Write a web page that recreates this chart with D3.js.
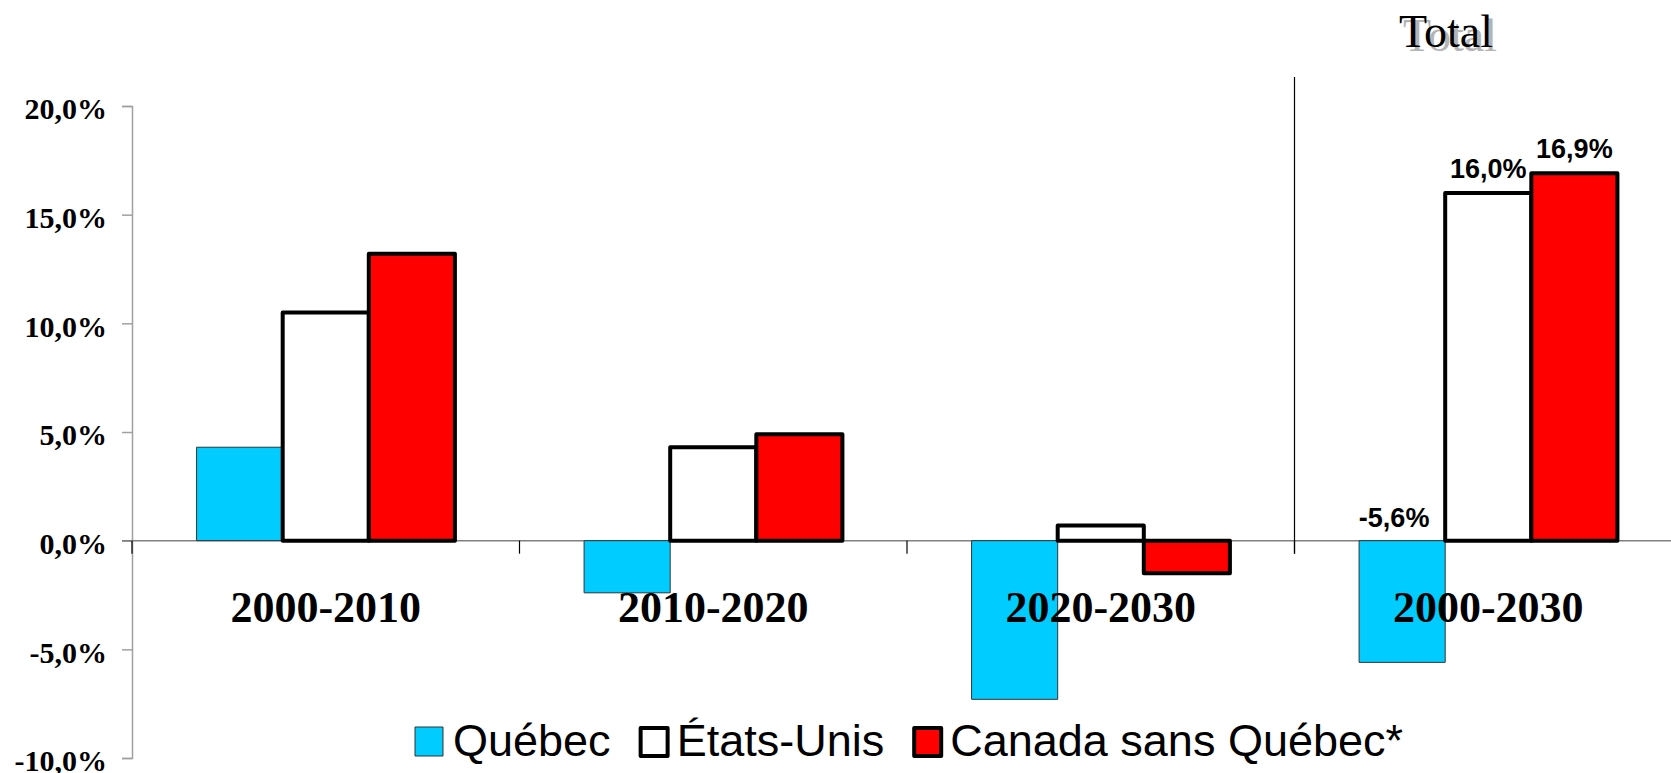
<!DOCTYPE html>
<html>
<head>
<meta charset="utf-8">
<script src="https://cdn.jsdelivr.net/npm/d3@7"></script>
<style>
  body { margin: 0; background: #fff; }
  svg { display: block; }
  .serif { font-family: "Liberation Serif", "Times New Roman", serif; }
  .sans { font-family: "Liberation Sans", Arial, sans-serif; }
</style>
</head>
<body>
<div id="chart"></div>
<script>
// data
var periods = ["2000-2010", "2010-2020", "2020-2030", "2000-2030"];
var seriesNames = ["Québec", "États-Unis", "Canada sans Québec*"];
var quebec = [4.3, -2.4, -7.3, -5.6];
var etatsUnis = [10.5, 4.3, 0.7, 16.0];
var canadaSansQuebec = [13.2, 4.9, -1.5, 16.9];
var yTicks = [-10, -5, 0, 5, 10, 15, 20];
var labelledPeriod = "2000-2030";
var totalTitle = "Total";

var width = 1671, height = 773;
var fills = ["#00CCFF", "#FFFFFF", "#FF0000"];

// french style percent, plain hyphen for negatives
function pct(d) {
    return d3.format(".1f")(d).replace(".", ",").replace("\u2212", "-") + "%";
}

var svg = d3.select("#chart").append("svg")
    .attr("width", width)
    .attr("height", height);

var y = d3.scaleLinear().domain([-10, 20]).range([758, 106]);
var x0 = d3.scaleBand().domain(periods).range([132, 1682]);
var x1 = d3.scaleBand().domain(seriesNames).range([0, x0.bandwidth()]).paddingOuter(0.75);

var rows = [quebec, etatsUnis, canadaSansQuebec];
var bars = [];
seriesNames.forEach(function (s, si) {
    periods.forEach(function (p, pi) {
        bars.push({ series: s, si: si, period: p, value: rows[si][pi] });
    });
});

// y axis
var yAxis = svg.append("g")
    .attr("transform", "translate(132,0)")
    .call(d3.axisLeft(y).tickValues(yTicks).tickSize(10).tickPadding(15).tickFormat(pct));
yAxis.select(".domain").attr("stroke", "#a0a0a0").attr("stroke-width", 1.5);
yAxis.selectAll(".tick line").attr("stroke", "#a0a0a0").attr("stroke-width", 1.5);
yAxis.selectAll(".tick text")
    .attr("class", "serif")
    .attr("font-size", 30)
    .attr("font-weight", "bold")
    .attr("fill", "#000")
    .attr("dy", "0.43em");

// zero line
svg.append("line")
    .attr("x1", 122).attr("x2", width)
    .attr("y1", y(0)).attr("y2", y(0))
    .attr("stroke", "#808080").attr("stroke-width", 1.5);

// category ticks
var bounds = periods.map(function (p) { return x0(p); });
svg.selectAll(".cat-tick").data(bounds).enter().append("line")
    .attr("class", "cat-tick")
    .attr("x1", function (d) { return d; }).attr("x2", function (d) { return d; })
    .attr("y1", y(0)).attr("y2", y(0) + 13)
    .attr("stroke", "#000").attr("stroke-width", 1.2);

// divider before the total group
var divX = x0(labelledPeriod);
svg.append("line")
    .attr("x1", divX).attr("x2", divX)
    .attr("y1", 77).attr("y2", y(0) + 13)
    .attr("stroke", "#000").attr("stroke-width", 1.2);

// bars
svg.selectAll(".bar").data(bars).enter().append("rect")
    .attr("class", "bar")
    .attr("x", function (d) { return x0(d.period) + x1(d.series); })
    .attr("width", x1.bandwidth())
    .attr("y", function (d) { return y(Math.max(0, d.value)); })
    .attr("height", function (d) { return Math.abs(y(d.value) - y(0)); })
    .attr("fill", function (d) { return fills[d.si]; })
    .attr("stroke", function (d) { return d.si === 0 ? "#333" : "#000"; })
    .attr("stroke-width", function (d) { return d.si === 0 ? 1 : 4; })
    .attr("stroke-linejoin", "round");

// data labels on the total group
svg.selectAll(".val").data(bars.filter(function (d) { return d.period === labelledPeriod; }))
    .enter().append("text")
    .attr("class", "val sans")
    .attr("font-size", 27)
    .attr("font-weight", "bold")
    .attr("text-anchor", "middle")
    .attr("x", function (d) { return x0(d.period) + x1(d.series) + x1.bandwidth() / 2 + (d.value < 0 ? -8 : 0); })
    .attr("y", function (d) { return d.value < 0 ? y(0) - 14 : y(d.value) - 15; })
    .text(function (d) { return pct(d.value); });

// category labels
svg.selectAll(".cat").data(periods).enter().append("text")
    .attr("class", "cat serif")
    .attr("font-size", 44)
    .attr("font-weight", "bold")
    .attr("text-anchor", "middle")
    .attr("x", function (d) { return x0(d) + x0.bandwidth() / 2; })
    .attr("y", 622)
    .text(function (d) { return d; });

// "Total" title with shadow
var tx = 1446, ty = 47;
svg.append("text").attr("class", "serif")
    .attr("x", tx + 4).attr("y", ty + 4)
    .attr("font-size", 46).attr("text-anchor", "middle")
    .attr("fill", "#b4b4b4").text(totalTitle);
svg.append("text").attr("class", "serif")
    .attr("x", tx).attr("y", ty)
    .attr("font-size", 46).attr("text-anchor", "middle")
    .attr("fill", "#000").text(totalTitle);

// legend
var legend = svg.append("g");
var lx = 415;
seriesNames.forEach(function (s, i) {
    var thick = i > 0;
    legend.append("rect")
        .attr("x", lx + (thick ? 2 : 0)).attr("y", 727 + (thick ? 1 : 0))
        .attr("width", thick ? 27 : 28).attr("height", thick ? 28 : 29)
        .attr("fill", fills[i])
        .attr("stroke", thick ? "#000" : "#333")
        .attr("stroke-width", thick ? 4 : 1)
        .attr("stroke-linejoin", "round");
    var t = legend.append("text")
        .attr("class", "sans")
        .attr("font-size", 45)
        .attr("x", lx + 38).attr("y", 756)
        .text(s);
    lx += 38 + t.node().getComputedTextLength() + 28;
});
</script>
</body>
</html>
